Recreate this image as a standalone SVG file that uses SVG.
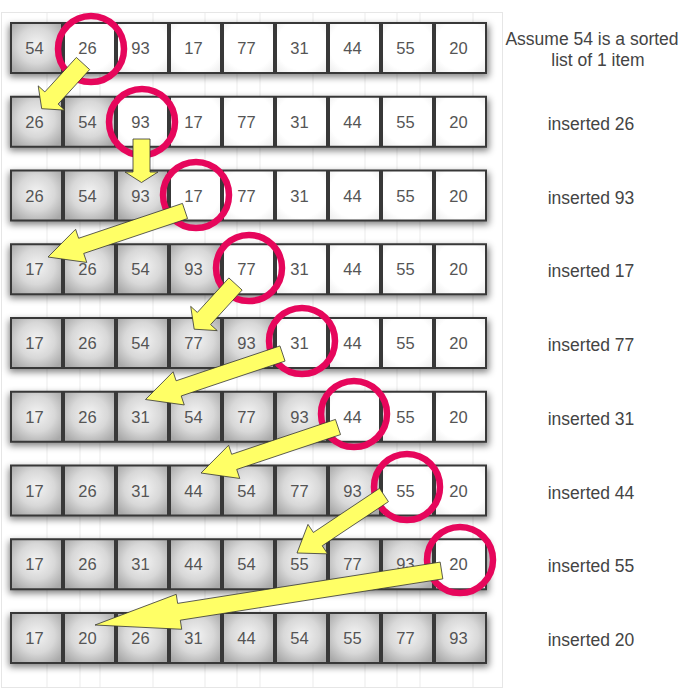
<svg xmlns="http://www.w3.org/2000/svg" width="694" height="692" viewBox="0 0 694 692">
<defs>
<radialGradient id="gGray" cx="50%" cy="45%" r="65%">
<stop offset="0" stop-color="#f4f4f4"/>
<stop offset="0.55" stop-color="#d8d8d8"/>
<stop offset="1" stop-color="#a9a9a9"/>
</radialGradient>
<radialGradient id="gWhite" cx="50%" cy="45%" r="70%">
<stop offset="0.7" stop-color="#ffffff"/>
<stop offset="1" stop-color="#eeeeee"/>
</radialGradient>
<filter id="blur" x="-10%" y="-50%" width="120%" height="200%">
<feGaussianBlur stdDeviation="3.5"/>
</filter>
<g id="rowShadow"><rect x="9" y="2" width="480" height="52" fill="#000" opacity="0.5" filter="url(#blur)"/></g>
</defs>
<style>
.cell{stroke:#383838;stroke-width:2}
.s{fill:url(#gGray)}
.u{fill:url(#gWhite)}
.num{font-family:"Liberation Sans",Arial,sans-serif;font-size:16.5px;fill:#555;text-anchor:middle}
.lbl{font-family:"Liberation Sans",Arial,sans-serif;font-size:17.5px;fill:#444;text-anchor:middle}
.ring{fill:none;stroke:#e6065b;stroke-width:6.5}
.arrow{fill:#ffff66;stroke:#333;stroke-width:0.8;stroke-linejoin:miter}
.grid{stroke:#ebebeb;stroke-width:1}
</style>
<rect width="694" height="692" fill="#fff"/>
<g id="background">
<rect x="1.5" y="12.5" width="501" height="675" fill="none" stroke="#e6e6e6"/>
<line class="grid" x1="47" y1="13" x2="47" y2="687"/>
<line class="grid" x1="80" y1="13" x2="80" y2="687"/>
<line class="grid" x1="100" y1="13" x2="100" y2="687"/>
<line class="grid" x1="153" y1="13" x2="153" y2="687"/>
<line class="grid" x1="205" y1="13" x2="205" y2="687"/>
<line class="grid" x1="237" y1="13" x2="237" y2="687"/>
<line class="grid" x1="260" y1="13" x2="260" y2="687"/>
<line class="grid" x1="313" y1="13" x2="313" y2="687"/>
<line class="grid" x1="365" y1="13" x2="365" y2="687"/>
<line class="grid" x1="397" y1="13" x2="397" y2="687"/>
<line class="grid" x1="420" y1="13" x2="420" y2="687"/>
<line class="grid" x1="473" y1="13" x2="473" y2="687"/>
</g>
<g id="shadows">
<use href="#rowShadow" y="23"/>
<use href="#rowShadow" y="96.75"/>
<use href="#rowShadow" y="170.5"/>
<use href="#rowShadow" y="244.25"/>
<use href="#rowShadow" y="318"/>
<use href="#rowShadow" y="391.75"/>
<use href="#rowShadow" y="465.5"/>
<use href="#rowShadow" y="539.25"/>
<use href="#rowShadow" y="613"/>
</g>
<!-- Row 0 -->
<g id="row0">
<g id="r0c0"><rect class="cell s" x="11" y="23" width="51" height="50"/><text class="num" x="34.5" y="54">54</text></g>
<g id="r0c1"><rect class="cell u" x="64" y="23" width="51" height="50"/><text class="num" x="87.5" y="54">26</text></g>
<g id="r0c2"><rect class="cell u" x="117" y="23" width="51" height="50"/><text class="num" x="140.5" y="54">93</text></g>
<g id="r0c3"><rect class="cell u" x="170" y="23" width="51" height="50"/><text class="num" x="193.5" y="54">17</text></g>
<g id="r0c4"><rect class="cell u" x="223" y="23" width="51" height="50"/><text class="num" x="246.5" y="54">77</text></g>
<g id="r0c5"><rect class="cell u" x="276" y="23" width="51" height="50"/><text class="num" x="299.5" y="54">31</text></g>
<g id="r0c6"><rect class="cell u" x="329" y="23" width="51" height="50"/><text class="num" x="352.5" y="54">44</text></g>
<g id="r0c7"><rect class="cell u" x="382" y="23" width="51" height="50"/><text class="num" x="405.5" y="54">55</text></g>
<g id="r0c8"><rect class="cell u" x="435" y="23" width="51" height="50"/><text class="num" x="458.5" y="54">20</text></g>
</g>
<!-- Row 1 -->
<g id="row1">
<g id="r1c0"><rect class="cell s" x="11" y="96.75" width="51" height="50"/><text class="num" x="34.5" y="127.75">26</text></g>
<g id="r1c1"><rect class="cell s" x="64" y="96.75" width="51" height="50"/><text class="num" x="87.5" y="127.75">54</text></g>
<g id="r1c2"><rect class="cell u" x="117" y="96.75" width="51" height="50"/><text class="num" x="140.5" y="127.75">93</text></g>
<g id="r1c3"><rect class="cell u" x="170" y="96.75" width="51" height="50"/><text class="num" x="193.5" y="127.75">17</text></g>
<g id="r1c4"><rect class="cell u" x="223" y="96.75" width="51" height="50"/><text class="num" x="246.5" y="127.75">77</text></g>
<g id="r1c5"><rect class="cell u" x="276" y="96.75" width="51" height="50"/><text class="num" x="299.5" y="127.75">31</text></g>
<g id="r1c6"><rect class="cell u" x="329" y="96.75" width="51" height="50"/><text class="num" x="352.5" y="127.75">44</text></g>
<g id="r1c7"><rect class="cell u" x="382" y="96.75" width="51" height="50"/><text class="num" x="405.5" y="127.75">55</text></g>
<g id="r1c8"><rect class="cell u" x="435" y="96.75" width="51" height="50"/><text class="num" x="458.5" y="127.75">20</text></g>
</g>
<!-- Row 2 -->
<g id="row2">
<g id="r2c0"><rect class="cell s" x="11" y="170.5" width="51" height="50"/><text class="num" x="34.5" y="201.5">26</text></g>
<g id="r2c1"><rect class="cell s" x="64" y="170.5" width="51" height="50"/><text class="num" x="87.5" y="201.5">54</text></g>
<g id="r2c2"><rect class="cell s" x="117" y="170.5" width="51" height="50"/><text class="num" x="140.5" y="201.5">93</text></g>
<g id="r2c3"><rect class="cell u" x="170" y="170.5" width="51" height="50"/><text class="num" x="193.5" y="201.5">17</text></g>
<g id="r2c4"><rect class="cell u" x="223" y="170.5" width="51" height="50"/><text class="num" x="246.5" y="201.5">77</text></g>
<g id="r2c5"><rect class="cell u" x="276" y="170.5" width="51" height="50"/><text class="num" x="299.5" y="201.5">31</text></g>
<g id="r2c6"><rect class="cell u" x="329" y="170.5" width="51" height="50"/><text class="num" x="352.5" y="201.5">44</text></g>
<g id="r2c7"><rect class="cell u" x="382" y="170.5" width="51" height="50"/><text class="num" x="405.5" y="201.5">55</text></g>
<g id="r2c8"><rect class="cell u" x="435" y="170.5" width="51" height="50"/><text class="num" x="458.5" y="201.5">20</text></g>
</g>
<!-- Row 3 -->
<g id="row3">
<g id="r3c0"><rect class="cell s" x="11" y="244.25" width="51" height="50"/><text class="num" x="34.5" y="275.25">17</text></g>
<g id="r3c1"><rect class="cell s" x="64" y="244.25" width="51" height="50"/><text class="num" x="87.5" y="275.25">26</text></g>
<g id="r3c2"><rect class="cell s" x="117" y="244.25" width="51" height="50"/><text class="num" x="140.5" y="275.25">54</text></g>
<g id="r3c3"><rect class="cell s" x="170" y="244.25" width="51" height="50"/><text class="num" x="193.5" y="275.25">93</text></g>
<g id="r3c4"><rect class="cell u" x="223" y="244.25" width="51" height="50"/><text class="num" x="246.5" y="275.25">77</text></g>
<g id="r3c5"><rect class="cell u" x="276" y="244.25" width="51" height="50"/><text class="num" x="299.5" y="275.25">31</text></g>
<g id="r3c6"><rect class="cell u" x="329" y="244.25" width="51" height="50"/><text class="num" x="352.5" y="275.25">44</text></g>
<g id="r3c7"><rect class="cell u" x="382" y="244.25" width="51" height="50"/><text class="num" x="405.5" y="275.25">55</text></g>
<g id="r3c8"><rect class="cell u" x="435" y="244.25" width="51" height="50"/><text class="num" x="458.5" y="275.25">20</text></g>
</g>
<!-- Row 4 -->
<g id="row4">
<g id="r4c0"><rect class="cell s" x="11" y="318" width="51" height="50"/><text class="num" x="34.5" y="349">17</text></g>
<g id="r4c1"><rect class="cell s" x="64" y="318" width="51" height="50"/><text class="num" x="87.5" y="349">26</text></g>
<g id="r4c2"><rect class="cell s" x="117" y="318" width="51" height="50"/><text class="num" x="140.5" y="349">54</text></g>
<g id="r4c3"><rect class="cell s" x="170" y="318" width="51" height="50"/><text class="num" x="193.5" y="349">77</text></g>
<g id="r4c4"><rect class="cell s" x="223" y="318" width="51" height="50"/><text class="num" x="246.5" y="349">93</text></g>
<g id="r4c5"><rect class="cell u" x="276" y="318" width="51" height="50"/><text class="num" x="299.5" y="349">31</text></g>
<g id="r4c6"><rect class="cell u" x="329" y="318" width="51" height="50"/><text class="num" x="352.5" y="349">44</text></g>
<g id="r4c7"><rect class="cell u" x="382" y="318" width="51" height="50"/><text class="num" x="405.5" y="349">55</text></g>
<g id="r4c8"><rect class="cell u" x="435" y="318" width="51" height="50"/><text class="num" x="458.5" y="349">20</text></g>
</g>
<!-- Row 5 -->
<g id="row5">
<g id="r5c0"><rect class="cell s" x="11" y="391.75" width="51" height="50"/><text class="num" x="34.5" y="422.75">17</text></g>
<g id="r5c1"><rect class="cell s" x="64" y="391.75" width="51" height="50"/><text class="num" x="87.5" y="422.75">26</text></g>
<g id="r5c2"><rect class="cell s" x="117" y="391.75" width="51" height="50"/><text class="num" x="140.5" y="422.75">31</text></g>
<g id="r5c3"><rect class="cell s" x="170" y="391.75" width="51" height="50"/><text class="num" x="193.5" y="422.75">54</text></g>
<g id="r5c4"><rect class="cell s" x="223" y="391.75" width="51" height="50"/><text class="num" x="246.5" y="422.75">77</text></g>
<g id="r5c5"><rect class="cell s" x="276" y="391.75" width="51" height="50"/><text class="num" x="299.5" y="422.75">93</text></g>
<g id="r5c6"><rect class="cell u" x="329" y="391.75" width="51" height="50"/><text class="num" x="352.5" y="422.75">44</text></g>
<g id="r5c7"><rect class="cell u" x="382" y="391.75" width="51" height="50"/><text class="num" x="405.5" y="422.75">55</text></g>
<g id="r5c8"><rect class="cell u" x="435" y="391.75" width="51" height="50"/><text class="num" x="458.5" y="422.75">20</text></g>
</g>
<!-- Row 6 -->
<g id="row6">
<g id="r6c0"><rect class="cell s" x="11" y="465.5" width="51" height="50"/><text class="num" x="34.5" y="496.5">17</text></g>
<g id="r6c1"><rect class="cell s" x="64" y="465.5" width="51" height="50"/><text class="num" x="87.5" y="496.5">26</text></g>
<g id="r6c2"><rect class="cell s" x="117" y="465.5" width="51" height="50"/><text class="num" x="140.5" y="496.5">31</text></g>
<g id="r6c3"><rect class="cell s" x="170" y="465.5" width="51" height="50"/><text class="num" x="193.5" y="496.5">44</text></g>
<g id="r6c4"><rect class="cell s" x="223" y="465.5" width="51" height="50"/><text class="num" x="246.5" y="496.5">54</text></g>
<g id="r6c5"><rect class="cell s" x="276" y="465.5" width="51" height="50"/><text class="num" x="299.5" y="496.5">77</text></g>
<g id="r6c6"><rect class="cell s" x="329" y="465.5" width="51" height="50"/><text class="num" x="352.5" y="496.5">93</text></g>
<g id="r6c7"><rect class="cell u" x="382" y="465.5" width="51" height="50"/><text class="num" x="405.5" y="496.5">55</text></g>
<g id="r6c8"><rect class="cell u" x="435" y="465.5" width="51" height="50"/><text class="num" x="458.5" y="496.5">20</text></g>
</g>
<!-- Row 7 -->
<g id="row7">
<g id="r7c0"><rect class="cell s" x="11" y="539.25" width="51" height="50"/><text class="num" x="34.5" y="570.25">17</text></g>
<g id="r7c1"><rect class="cell s" x="64" y="539.25" width="51" height="50"/><text class="num" x="87.5" y="570.25">26</text></g>
<g id="r7c2"><rect class="cell s" x="117" y="539.25" width="51" height="50"/><text class="num" x="140.5" y="570.25">31</text></g>
<g id="r7c3"><rect class="cell s" x="170" y="539.25" width="51" height="50"/><text class="num" x="193.5" y="570.25">44</text></g>
<g id="r7c4"><rect class="cell s" x="223" y="539.25" width="51" height="50"/><text class="num" x="246.5" y="570.25">54</text></g>
<g id="r7c5"><rect class="cell s" x="276" y="539.25" width="51" height="50"/><text class="num" x="299.5" y="570.25">55</text></g>
<g id="r7c6"><rect class="cell s" x="329" y="539.25" width="51" height="50"/><text class="num" x="352.5" y="570.25">77</text></g>
<g id="r7c7"><rect class="cell s" x="382" y="539.25" width="51" height="50"/><text class="num" x="405.5" y="570.25">93</text></g>
<g id="r7c8"><rect class="cell u" x="435" y="539.25" width="51" height="50"/><text class="num" x="458.5" y="570.25">20</text></g>
</g>
<!-- Row 8 -->
<g id="row8">
<g id="r8c0"><rect class="cell s" x="11" y="613" width="51" height="50"/><text class="num" x="34.5" y="644">17</text></g>
<g id="r8c1"><rect class="cell s" x="64" y="613" width="51" height="50"/><text class="num" x="87.5" y="644">20</text></g>
<g id="r8c2"><rect class="cell s" x="117" y="613" width="51" height="50"/><text class="num" x="140.5" y="644">26</text></g>
<g id="r8c3"><rect class="cell s" x="170" y="613" width="51" height="50"/><text class="num" x="193.5" y="644">31</text></g>
<g id="r8c4"><rect class="cell s" x="223" y="613" width="51" height="50"/><text class="num" x="246.5" y="644">44</text></g>
<g id="r8c5"><rect class="cell s" x="276" y="613" width="51" height="50"/><text class="num" x="299.5" y="644">54</text></g>
<g id="r8c6"><rect class="cell s" x="329" y="613" width="51" height="50"/><text class="num" x="352.5" y="644">55</text></g>
<g id="r8c7"><rect class="cell s" x="382" y="613" width="51" height="50"/><text class="num" x="405.5" y="644">77</text></g>
<g id="r8c8"><rect class="cell s" x="435" y="613" width="51" height="50"/><text class="num" x="458.5" y="644">93</text></g>
</g>
<g id="labels">
<text class="lbl" x="592" y="45">Assume 54 is a sorted</text>
<text class="lbl" x="598" y="66">list of 1 item</text>
<text class="lbl" x="591" y="130">inserted 26</text>
<text class="lbl" x="591" y="203.5">inserted 93</text>
<text class="lbl" x="591" y="277">inserted 17</text>
<text class="lbl" x="591" y="351">inserted 77</text>
<text class="lbl" x="591" y="424.5">inserted 31</text>
<text class="lbl" x="591" y="498.5">inserted 44</text>
<text class="lbl" x="591" y="572">inserted 55</text>
<text class="lbl" x="591" y="646">inserted 20</text>
</g>
<g id="highlights">
<circle class="ring" cx="91" cy="49" r="33"/>
<circle class="ring" cx="142" cy="122" r="33"/>
<circle class="ring" cx="196" cy="195" r="33"/>
<circle class="ring" cx="249" cy="268" r="33"/>
<circle class="ring" cx="302" cy="341" r="33"/>
<circle class="ring" cx="354" cy="414" r="33"/>
<circle class="ring" cx="407" cy="487" r="33"/>
<circle class="ring" cx="460" cy="560" r="33"/>
</g>
<g id="connectors">
<polygon class="arrow" points="76.36,57.43 44.84,91.93 38.19,85.86 41.7,108.7 64.77,110.14 58.12,104.07 89.64,69.57"/>
<polygon class="arrow" points="133,139 133,172 125,172 141.5,182.5 158,172 150,172 150,139"/>
<polygon class="arrow" points="182.45,203.42 78.63,238.28 75.61,229.27 48,257 86.75,262.45 83.73,253.44 187.55,218.58"/>
<polygon class="arrow" points="228.86,277.93 197.34,312.43 190.69,306.36 194.2,329.2 217.27,330.64 210.62,324.57 242.14,290.07"/>
<polygon class="arrow" points="279.95,345.92 176.13,380.78 173.11,371.77 145.5,399.5 184.25,404.95 181.23,395.94 285.05,361.08"/>
<polygon class="arrow" points="335.45,419.42 231.63,454.28 228.61,445.27 201,473 239.75,478.45 236.73,469.44 340.55,434.58"/>
<polygon class="arrow" points="379.56,488.34 313.36,532.47 307.98,524.4 297,553 327.62,553.86 322.24,545.79 388.44,501.66"/>
<polygon class="arrow" points="440.18,562.1 177.65,603.39 176.22,594.3 95,625 181.72,629.28 180.29,620.19 442.82,578.9"/>
</g>
</svg>
